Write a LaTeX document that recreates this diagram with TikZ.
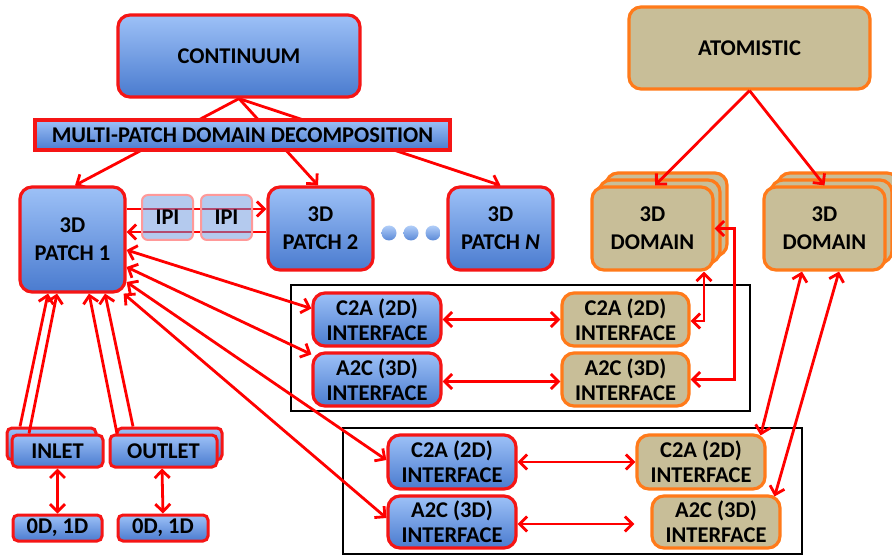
\documentclass[tikz,border=0pt]{standalone}
\usepackage{fontspec}
\setmainfont{Carlito}
\usetikzlibrary{arrows.meta}
\definecolor{bluT}{HTML}{9DC1F7}
\definecolor{bluB}{HTML}{4A7BCF}
\definecolor{tanbox}{HTML}{C8BE98}
\definecolor{orng}{HTML}{FF7A1A}
\definecolor{redb}{HTML}{F51515}
\pgfdeclarelayer{bg}
\pgfsetlayers{bg,main}
\begin{document}
\begin{tikzpicture}[x=1pt,y=-1pt,
  bx/.style={rounded corners=12pt, line width=3.2pt, align=center, inner sep=0pt,
             font=\bfseries\fontsize{22.5}{25}\selectfont},
  cbox/.style={bx, draw=redb, top color=bluT, bottom color=bluB},
  abox/.style={bx, draw=orng, fill=tanbox},
  small/.style={rounded corners=5pt, line width=3pt},
  ipibox/.style={bx, rounded corners=6pt, draw=red!40, line width=2pt,
                 fill=bluB!60!bluT, fill opacity=0.5, text opacity=1,
                 minimum width=51pt, minimum height=45pt},
  dotc/.style={circle, inner sep=0pt, minimum size=15pt, top color=bluT!80!white, bottom color=bluB!80!bluT},
  frame/.style={draw=black, line width=2.8pt},
  ln/.style={draw=red, line width=2.8pt},
  arr/.style={ln, -{Straight Barb[length=7.5pt,width=15pt]}},
  darr/.style={ln, {Straight Barb[length=7.5pt,width=15pt]}-{Straight Barb[length=7.5pt,width=15pt]}}
]
\useasboundingbox (0,0) rectangle (892,556);

% frames
\draw[frame] (291,285) rectangle (750,411);
\draw[frame] (343,428) rectangle (802,554);

% top nodes
\node[cbox, minimum width=242pt, minimum height=82pt] (cont) at (239,56) {CONTINUUM};
\node[cbox, rounded corners=0pt, minimum width=415pt, minimum height=30pt] (mpdd) at (242.5,135) {MULTI-PATCH DOMAIN DECOMPOSITION};
\node[abox, minimum width=241pt, minimum height=82pt] (atom) at (749.5,48) {ATOMISTIC};

% patches
\node[cbox, minimum width=105pt, minimum height=105pt, font=\bfseries\fontsize{22.5}{28}\selectfont] (p1) at (72.5,239.5) {3D\\PATCH 1};
\node[cbox, minimum width=105pt, minimum height=83pt, font=\bfseries\fontsize{22.5}{28}\selectfont] (p2) at (320.5,228.5) {3D\\PATCH 2};
\node[cbox, minimum width=105pt, minimum height=83pt, font=\bfseries\fontsize{22.5}{28}\selectfont] (pN) at (500.5,228.5) {3D\\PATCH \textit{N}};
\node[dotc] (d1) at (389,233) {};
\node[dotc] (d2) at (411,233) {};
\node[dotc] (d3) at (433,233) {};

% domains (stacked)
\node[abox, minimum width=121pt, minimum height=83pt] (dom1c) at (666.5,214.5) {};
\node[abox, minimum width=121pt, minimum height=83pt] (dom1b) at (659.5,221.5) {};
\node[abox, minimum width=121pt, minimum height=83pt, font=\bfseries\fontsize{22.5}{28}\selectfont] (dom1) at (652.5,228.5) {3D\\DOMAIN};
\node[abox, minimum width=121pt, minimum height=83pt] (dom2c) at (838.5,214.5) {};
\node[abox, minimum width=121pt, minimum height=83pt] (dom2b) at (831.5,221.5) {};
\node[abox, minimum width=121pt, minimum height=83pt, font=\bfseries\fontsize{22.5}{28}\selectfont] (dom2) at (824.5,228.5) {3D\\DOMAIN};

% interfaces, first frame
\node[cbox, minimum width=128pt, minimum height=53pt] (c2a1b) at (377,319.5) {C2A (2D)\\INTERFACE};
\node[cbox, minimum width=128pt, minimum height=53pt] (a2c1b) at (377,379.5) {A2C (3D)\\INTERFACE};
\node[abox, minimum width=127pt, minimum height=53pt] (c2a1t) at (625.5,319.5) {C2A (2D)\\INTERFACE};
\node[abox, minimum width=127pt, minimum height=53pt] (a2c1t) at (625.5,379.5) {A2C (3D)\\INTERFACE};

% interfaces, second frame
\node[cbox, minimum width=128pt, minimum height=54pt] (c2a2b) at (452,462) {C2A (2D)\\INTERFACE};
\node[cbox, minimum width=128pt, minimum height=52pt] (a2c2b) at (452,522) {A2C (3D)\\INTERFACE};
\node[abox, minimum width=128pt, minimum height=54pt] (c2a2t) at (701,462) {C2A (2D)\\INTERFACE};
\node[abox, minimum width=128pt, minimum height=52pt] (a2c2t) at (716,522) {A2C (3D)\\INTERFACE};

% inlet / outlet
\node[cbox, small, minimum width=89pt, minimum height=32pt] (inletb) at (51.5,444) {};
\node[cbox, small, minimum width=91pt, minimum height=32pt] (inlet) at (57.5,451) {INLET};
\node[cbox, small, minimum width=105pt, minimum height=32pt] (outletb) at (169.5,444) {};
\node[cbox, small, minimum width=107pt, minimum height=32pt] (outlet) at (163.5,451) {OUTLET};
\node[cbox, small, minimum width=89pt, minimum height=26pt] (od1) at (57.5,528) {0D, 1D};
\node[cbox, small, minimum width=90pt, minimum height=26pt] (od2) at (163,528) {0D, 1D};

% IPI boxes
\node[ipibox] (ipi1) at (167.5,217.5) {IPI};
\node[ipibox] (ipi2) at (226.5,217.5) {IPI};

% background and connectors behind boxes
\begin{pgfonlayer}{bg}
\fill[white] (0,0) rectangle (892,556);
\draw[arr] (cont.south) -- ([xshift=2.5pt]p1.north);
\draw[arr] (cont.south) -- ([xshift=-2.5pt]p2.north);
\draw[arr] (cont.south) -- (pN.north);
\draw[arr] ([yshift=30.5pt]p1.east) -- ([yshift=19.5pt]p2.west);
\draw[arr] ([yshift=-3.5pt]p2.west) -- ([yshift=7.5pt]p1.east);
\end{pgfonlayer}

% atomistic
\draw[arr] (atom.south) -- ([xshift=2.5pt]dom1.north);
\draw[arr] (atom.south) -- (dom2.north);

% patch 1 to interfaces
\draw[darr] ([yshift=-10.5pt]p1.east) -- ([yshift=11pt]c2a1b.west);
\draw[darr] ([yshift=-27.5pt]p1.east) -- ([yshift=-3pt]a2c1b.north west);
\draw[darr] ([yshift=-42.5pt]p1.east) -- ([yshift=2pt]c2a2b.west);
\draw[darr] ([xshift=-3pt]p1.south east) -- ([yshift=4pt]a2c2b.west);

% interface pairs
\draw[darr] (c2a1b.east) -- (c2a1t.west);
\draw[darr] ([yshift=-2pt]a2c1b.east) -- ([yshift=-2pt]a2c1t.west);
\draw[darr] (c2a2b.east) -- (c2a2t.west);
\draw[darr] ([yshift=-2pt]a2c2b.east) -- ([xshift=-16pt,yshift=-2pt]a2c2t.west);

% domain 1 to top-right interfaces
\draw[darr] ([xshift=51.5pt]dom1.south) |- ([yshift=-1.5pt]c2a1t.east);
\draw[darr] (dom1.east) -- ++(20,0) |- (a2c1t.east);

% domain 2 to bottom-right interfaces
\draw[darr] ([xshift=-22.5pt]dom2.south) -- ([xshift=-6pt,yshift=-2pt]c2a2t.north east);
\draw[darr] ([xshift=14.5pt]dom2.south) -- ([xshift=-7pt,yshift=-2pt]a2c2t.north east);

% inlet / outlet to patch 1
\draw[arr] ([xshift=-31.5pt]inletb.north) -- ([xshift=-24.5pt]p1.south);
\draw[arr] ([xshift=-28.5pt]inlet.north) -- ([xshift=-15.5pt]p1.south);
\draw[arr] ([xshift=-46.5pt]outlet.north) -- ([xshift=16.5pt]p1.south);
\draw[arr] ([xshift=-36.5pt]outletb.north) -- ([xshift=32.5pt]p1.south);
\draw[darr] (inlet.south) -- (od1.north);
\draw[darr] ([xshift=-1.5pt]outlet.south) -- (od2.north);
\end{tikzpicture}
\end{document}
